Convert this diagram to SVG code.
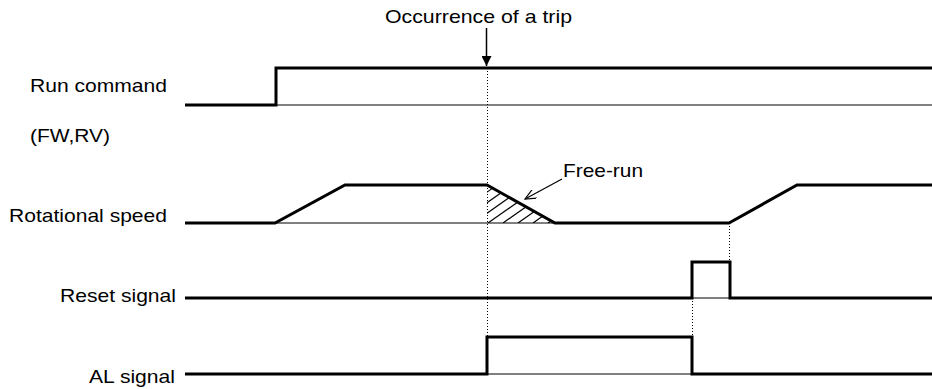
<svg xmlns="http://www.w3.org/2000/svg" width="932" height="389" viewBox="0 0 932 389">
<style>
text{font-family:"Liberation Sans",Arial,sans-serif;font-size:18.5px;fill:#000}
.thick{fill:none;stroke:#000;stroke-width:3;stroke-linejoin:miter}
.thin{fill:none;stroke:#000;stroke-width:1}
.dot{fill:none;stroke:#000;stroke-width:1;stroke-dasharray:1 2}
.hatch{stroke:#000;stroke-width:1.2}
</style>
<defs>
<marker id="filled" viewBox="0 0 10 10" refX="10" refY="5" markerWidth="10" markerHeight="10" markerUnits="userSpaceOnUse" orient="auto">
<path d="M0,0 L10,5 L0,10 Z" fill="#000"/>
</marker>
<marker id="open" viewBox="0 0 12 10" refX="11" refY="5" markerWidth="12" markerHeight="10" markerUnits="userSpaceOnUse" orient="auto">
<path d="M0,0 L11,5 L0,10" fill="none" stroke="#000" stroke-width="1.2"/>
</marker>
<clipPath id="tri"><path d="M487,185 L555,223 L487,223 Z"/></clipPath>
</defs>

<g id="labels">
<text x="30" y="92" textLength="137" lengthAdjust="spacingAndGlyphs">Run command</text>
<text x="30" y="142" textLength="80" lengthAdjust="spacingAndGlyphs">(FW,RV)</text>
<text x="9" y="222" textLength="158" lengthAdjust="spacingAndGlyphs">Rotational speed</text>
<text x="60" y="302" textLength="116" lengthAdjust="spacingAndGlyphs">Reset signal</text>
<text x="89" y="383" textLength="86" lengthAdjust="spacingAndGlyphs">AL signal</text>
</g>

<g id="run-command">
<path class="thin" d="M276,105 H932"/>
<path class="thick" d="M185,105 H276 V68 H932"/>
</g>

<g id="rotational-speed">
<path class="thin" d="M275,223 H555"/>
<g clip-path="url(#tri)" class="hatch">
<line x1="443" y1="223" x2="500" y2="183"/>
<line x1="458" y1="223" x2="515" y2="183"/>
<line x1="473" y1="223" x2="530" y2="183"/>
<line x1="488" y1="223" x2="545" y2="183"/>
<line x1="503" y1="223" x2="560" y2="183"/>
<line x1="518" y1="223" x2="575" y2="183"/>
<line x1="533" y1="223" x2="590" y2="183"/>
<line x1="548" y1="223" x2="605" y2="183"/>
</g>
<path class="thick" d="M185,223 H275 L345,185 H487 L555,223 H729 L797,185 H932"/>
</g>

<g id="reset-signal">
<path class="thin" d="M692,298 H730"/>
<path class="thick" d="M185,298 H692 V262 H730 V298 H932"/>
</g>

<g id="al-signal">
<path class="thin" d="M487,374 H692"/>
<path class="thick" d="M185,374 H487 V337 H692 V374 H932"/>
</g>

<g id="trip-label">
<text x="385" y="23" textLength="187" lengthAdjust="spacingAndGlyphs">Occurrence of a trip</text>
</g>

<g id="free-run-label">
<text x="563" y="177" textLength="80" lengthAdjust="spacingAndGlyphs">Free-run</text>
</g>

<g id="connectors">
<line class="dot" x1="487.5" y1="68" x2="487.5" y2="337"/>
<line class="dot" x1="729.5" y1="223" x2="729.5" y2="262"/>
<line class="dot" x1="692.5" y1="298" x2="692.5" y2="337"/>
<line x1="486.5" y1="28" x2="486.5" y2="66" stroke="#000" stroke-width="1.5" marker-end="url(#filled)"/>
<line x1="562" y1="179" x2="525" y2="199" stroke="#000" stroke-width="1.2" marker-end="url(#open)"/>
</g>
</svg>
